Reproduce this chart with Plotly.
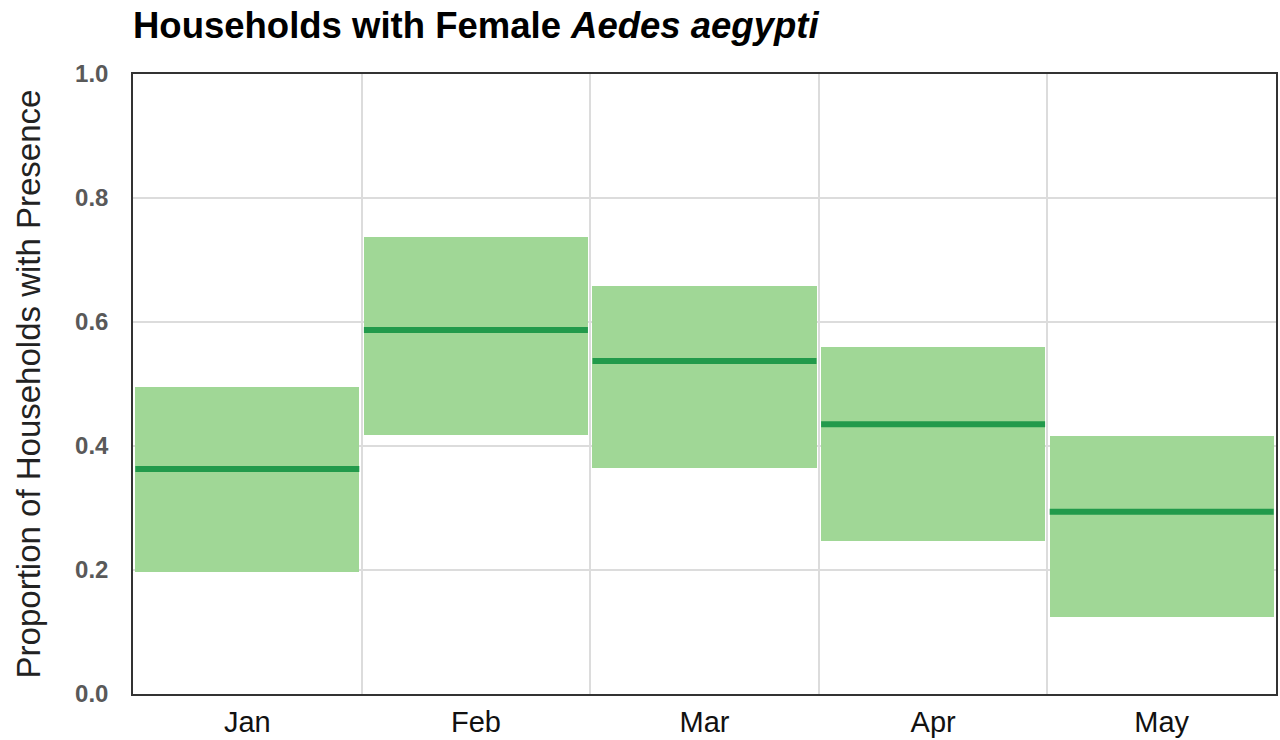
import plotly.graph_objects as go

months = ["Jan", "Feb", "Mar", "Apr", "May"]
lower = [0.196, 0.417, 0.365, 0.247, 0.125]
upper = [0.495, 0.737, 0.658, 0.560, 0.416]
median = [0.363, 0.587, 0.537, 0.435, 0.294]

xpos = list(range(1, len(months) + 1))
half = 0.49

fig = go.Figure()
fig.add_trace(go.Bar(
    x=xpos, y=[u - l for u, l in zip(upper, lower)], base=lower,
    width=0.98, marker=dict(color="#a0d796", line=dict(width=0)),
    showlegend=False, hoverinfo="skip",
))

mx, my = [], []
for xi, m in zip(xpos, median):
    mx += [xi - half, xi + half, None]
    my += [m, m, None]
fig.add_trace(go.Scatter(
    x=mx, y=my, mode="lines", line=dict(color="#229a4b", width=6),
    showlegend=False, hoverinfo="skip",
))

fig.update_layout(
    width=1280, height=740,
    margin=dict(l=133, r=4, t=74, b=46),
    plot_bgcolor="white", paper_bgcolor="white",
    font=dict(family="Liberation Sans, Arial, sans-serif"),
    title=dict(
        text="<b>Households with Female <i>Aedes aegypti</i></b>",
        font=dict(size=36.5, color="#000000"),
        xref="paper", x=0, xanchor="left",
        yref="container", y=1 - 25 / 740, yanchor="middle",
    ),
    bargap=0,
)
fig.update_xaxes(
    range=[0.5, 5.5], tickvals=xpos, ticktext=months,
    showgrid=False, zeroline=False, automargin=False,
    showline=True, linecolor="#333333", linewidth=1.5, mirror=True,
    tickfont=dict(size=29, color="#111111"),
    ticks="", ticklabelstandoff=1,
    minor=dict(tickvals=[1.5, 2.5, 3.5, 4.5], showgrid=True,
               gridcolor="#dcdcdc", gridwidth=1.5, ticks=""),
)
fig.update_yaxes(
    range=[0, 1], tickvals=[0, 0.2, 0.4, 0.6, 0.8, 1.0],
    ticktext=["0.0", "0.2", "0.4", "0.6", "0.8", "1.0"],
    showgrid=True, gridcolor="#dcdcdc", gridwidth=1.5, zeroline=False,
    automargin=False,
    showline=True, linecolor="#333333", linewidth=1.5, mirror=True,
    tickfont=dict(size=24, color="#595959", weight="bold"),
    ticks="", ticklabelstandoff=18,
    title=dict(text="Proportion of Households with Presence",
               font=dict(size=33, color="#222222"), standoff=25),
)

fig.write_html("out.html", config={"displayModeBar": False},
               post_script="document.body.style.margin='0';")
